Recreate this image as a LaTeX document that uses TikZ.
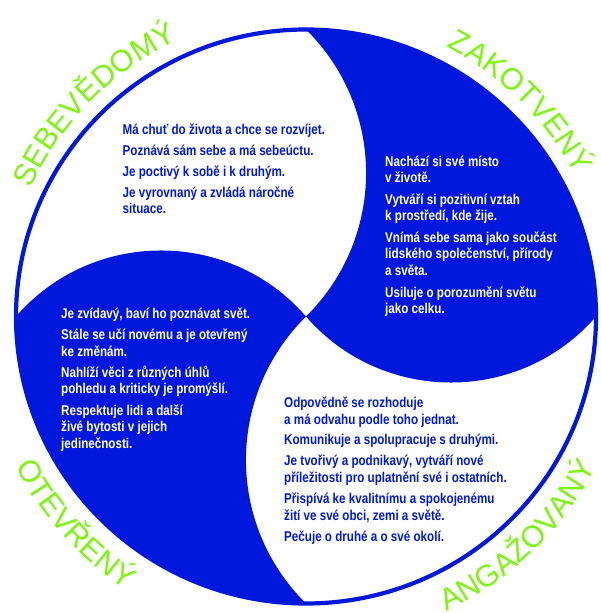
\documentclass[tikz,border=0pt]{standalone}
\usepackage{fontspec}
\setmainfont{Liberation Sans}
\newfontfamily\bodyfont[FakeStretch=0.82]{Liberation Sans}
\newfontfamily\labelfont{Liberation Sans}
\usetikzlibrary{decorations.text,calc}
\definecolor{mainblue}{RGB}{0,24,220}
\definecolor{labelgreen}{RGB}{125,245,15}
\newcommand\bodyset[1]{\bodyfont\bfseries\fontsize{14.2pt}{#1}\selectfont}
\newcommand\labelstyle{\labelfont\fontsize{30.5pt}{30.5pt}\selectfont\color{labelgreen}}
\begin{document}
\begin{tikzpicture}[x=1pt,y=1pt,
  bodytext/.style={inner sep=0pt, anchor=base west, align=left},
  labeltext/.style={decorate, decoration={text along path, text align=center}}]
\useasboundingbox (0,0) rectangle (601,613);
\coordinate (C) at (306,296.5);
\begin{scope}[shift={(306,296.5)}, x=290pt, y=287pt]
  \coordinate (T) at (0,1);
  \coordinate (R) at (1,0);
  \coordinate (B) at (0,-1);
  \coordinate (L) at (-1,0);
  \coordinate (O) at (0,0);
  \fill[mainblue] (T) .. controls (0.27614,0.72386) and (0.27614,0.27614) .. (O)
     .. controls (0.26280,-0.30669) and (0.73720,-0.30669) .. (R)
     arc[start angle=0, end angle=90, x radius=290pt, y radius=287pt] -- cycle;
  \fill[mainblue] (B) .. controls (-0.27614,-0.72386) and (-0.27614,-0.27614) .. (O)
     .. controls (-0.26280,0.30669) and (-0.73720,0.30669) .. (L)
     arc[start angle=180, end angle=270, x radius=290pt, y radius=287pt] -- cycle;
  \draw[mainblue, line width=4.2pt] (O) ellipse[x radius=290pt, y radius=287pt];
\end{scope}
% labels
\path[labeltext, decoration={text={|\labelstyle|SEBEVĚDOMÝ}}]
  ($(C)+(175:304)$) arc[start angle=175, end angle=95, radius=304];
\path[labeltext, decoration={text={|\labelstyle|ZAKOTVENÝ}}]
  ($(C)+(85:304)$) arc[start angle=85, end angle=5, radius=304];
\path[labeltext, decoration={text={|\labelstyle|OTEVŘENÝ}}]
  ($(C)+(182:327)$) arc[start angle=182, end angle=262, radius=327];
\path[labeltext, decoration={text={|\labelstyle|ANGAŽOVANÝ}}]
  ($(C)+(274:327)$) arc[start angle=274, end angle=354, radius=327];
% body texts (anchored at the baseline of their last line)
\node[bodytext, text=mainblue, font=\bodyset{15.5pt}] (sebe) at (122.5,399.5)
  {Má chuť do života a chce se rozvíjet.\\[5.5pt]
   Poznává sám sebe a má sebeúctu.\\[5.5pt]
   Je poctivý k sobě i k druhým.\\[5.5pt]
   Je vyrovnaný a zvládá náročné\\
   situace.};
\node[bodytext, text=white, font=\bodyset{16.2pt}] (zako) at (385,299.7)
  {Nachází si své místo\\
   v životě.\\[5.7pt]
   Vytváří si pozitivní vztah\\
   k prostředí, kde žije.\\[5.7pt]
   Vnímá sebe sama jako součást\\
   lidského společenství, přírody\\
   a světa.\\[5.7pt]
   Usiluje o porozumění světu\\
   jako celku.};
\node[bodytext, text=white, font=\bodyset{16.6pt}] (otev) at (61,164.7)
  {Je zvídavý, baví ho poznávat svět.\\[4.6pt]
   Stále se učí novému a je otevřený\\
   ke změnám.\\[4.6pt]
   Nahlíží věci z různých úhlů\\
   pohledu a kriticky je promýšlí.\\[4.6pt]
   Respektuje lidi a další\\
   živé bytosti v jejich\\
   jedinečnosti.};
\node[bodytext, text=mainblue, font=\bodyset{17pt}] (anga) at (284,71.3)
  {Odpovědně se rozhoduje\\
   a má odvahu podle toho jednat.\\[3.9pt]
   Komunikuje a spolupracuje s druhými.\\[3.9pt]
   Je tvořivý a podnikavý, vytváří nové\\
   příležitosti pro uplatnění své i ostatních.\\[3.9pt]
   Přispívá ke kvalitnímu a spokojenému\\
   žití ve své obci, zemi a světě.\\[3.9pt]
   Pečuje o druhé a o své okolí.};
\end{tikzpicture}
\end{document}
